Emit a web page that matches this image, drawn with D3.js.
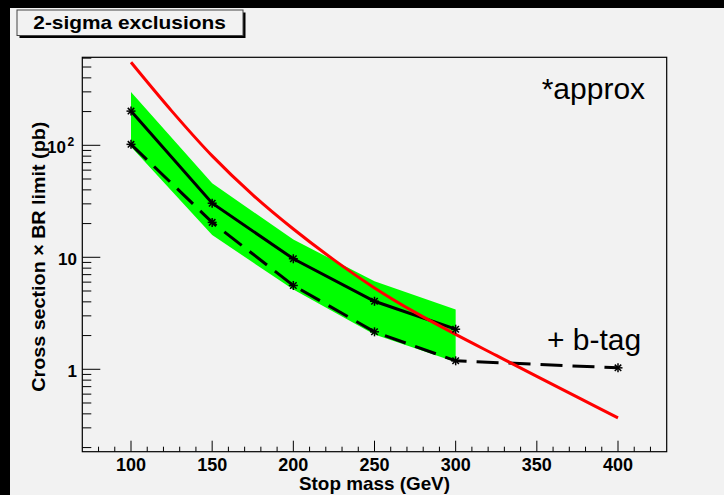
<!DOCTYPE html>
<html>
<head>
<meta charset="utf-8">
<script src="https://cdn.jsdelivr.net/npm/d3@7"></script>
<style>
  html, body { margin: 0; padding: 0; background: #000; }
  svg { display: block; }
</style>
</head>
<body>
<script>
// ---- data ----
const limitMasses = [100, 150, 200, 250, 300];
const observedLimit = [202, 30.4, 9.7, 4.05, 2.28];
const bandUpper = [299, 45.8, 14.4, 6.1, 3.41];
const bandLower = [97, 15.8, 5.15, 2.04, 1.16];
const btagMasses = [100, 150, 200, 250, 300, 400];
const btagLimit = [102, 20.5, 5.6, 2.16, 1.19, 1.03];
const theoryMasses = [100, 125, 150, 175, 200, 225, 250, 275, 300, 325, 350, 375, 400];
const theoryXsec = [551, 203, 80.4, 36.1, 17.9, 9.48, 5.33, 3.22, 2.05, 1.33, 0.864, 0.564, 0.368];
const xTickValues = [100, 150, 200, 250, 300, 350, 400];
const yMajorTicks = [1, 10, 100];
const yTickLabels = ["1", "10", "10"];

const W = 724, H = 495;
const svg = d3.select("body").append("svg").attr("width", W).attr("height", H);

// black frame of the window, light canvas
svg.append("rect").attr("x", 0).attr("y", 0).attr("width", W).attr("height", H).attr("fill", "#000");
svg.append("rect").attr("x", 10).attr("y", 8).attr("width", W - 10).attr("height", H - 8).attr("fill", "#f2f2f2");

const L = 82.3, R = 666.7, T = 57.3, B = 451.7;
const x = d3.scaleLinear().domain([70, 430]).range([L, R]);
const y = d3.scaleLog().domain([0.1837, 610.6]).range([B, T]);

const font = "'Liberation Sans', Arial, Helvetica, sans-serif";

// green band
const bandPts = limitMasses.map((m, i) => [x(m), y(bandUpper[i])])
  .concat(limitMasses.map((m, i) => [x(m), y(bandLower[i])]).reverse());
svg.append("path").attr("d", "M" + bandPts.map(p => p.join(",")).join("L") + "Z")
  .attr("fill", "#00ff00");

// lines
const line = d3.line().x(d => x(d[0])).y(d => y(d[1]));
svg.append("path")
  .attr("d", line(btagMasses.map((m, i) => [m, btagLimit[i]])))
  .attr("fill", "none").attr("stroke", "#000").attr("stroke-width", 3)
  .attr("stroke-dasharray", "22,10");
svg.append("path")
  .attr("d", line(limitMasses.map((m, i) => [m, observedLimit[i]])))
  .attr("fill", "none").attr("stroke", "#000").attr("stroke-width", 3);
svg.append("path")
  .attr("d", d3.line().x(d => x(d[0])).y(d => y(d[1])).curve(d3.curveCatmullRom.alpha(0.5))(theoryMasses.map((m, i) => [m, theoryXsec[i]])))
  .attr("fill", "none").attr("stroke", "#ff0000").attr("stroke-width", 3);

// asterisk markers
function star(g, cx, cy) {
  const r = 4.5, d = r * 0.72;
  const segs = [[-r, 0, r, 0], [0, -r, 0, r], [-d, -d, d, d], [-d, d, d, -d]];
  segs.forEach(s => g.append("line")
    .attr("x1", cx + s[0]).attr("y1", cy + s[1]).attr("x2", cx + s[2]).attr("y2", cy + s[3])
    .attr("stroke", "#000").attr("stroke-width", 1.5));
}
const mk = svg.append("g");
limitMasses.forEach((m, i) => star(mk, x(m), y(observedLimit[i])));
btagMasses.forEach((m, i) => star(mk, x(m), y(btagLimit[i])));

// frame
svg.append("rect").attr("x", L).attr("y", T).attr("width", R - L).attr("height", B - T)
  .attr("fill", "none").attr("stroke", "#000").attr("stroke-width", 1.2);

// x ticks
const xMinor = d3.range(80, 430, 10);
const xa = svg.append("g");
xMinor.forEach(v => {
  const major = xTickValues.includes(v);
  xa.append("line").attr("x1", x(v)).attr("x2", x(v)).attr("y1", B).attr("y2", B - (major ? 11 : 5))
    .attr("stroke", "#000").attr("stroke-width", 1);
});
xTickValues.forEach(v => {
  xa.append("text").attr("x", x(v)).attr("y", 470.7).attr("text-anchor", "middle")
    .attr("font-family", font).attr("font-weight", "bold").attr("font-size", 18).attr("fill", "#000")
    .text(v);
});
svg.append("text").attr("x", (L + R) / 2).attr("y", 490).attr("text-anchor", "middle")
  .attr("font-family", font).attr("font-weight", "bold").attr("font-size", 18.5)
  .attr("textLength", 151).attr("lengthAdjust", "spacingAndGlyphs")
  .text("Stop mass (GeV)");

// y ticks
const ya = svg.append("g");
[0.1, 1, 10, 100].forEach(dec => {
  for (let k = 1; k <= 9; k++) {
    const v = dec * k;
    if (v < y.domain()[0] || v > y.domain()[1]) continue;
    const major = k === 1;
    ya.append("line").attr("x1", L).attr("x2", L + (major ? 18 : 9)).attr("y1", y(v)).attr("y2", y(v))
      .attr("stroke", "#000").attr("stroke-width", 1);
  }
});
yMajorTicks.forEach((v, i) => {
  ya.append("text").attr("x", v === 100 ? 66 : 77).attr("y", y(v) + 7.5).attr("text-anchor", "end")
    .attr("font-family", font).attr("font-weight", "bold").attr("font-size", 17).attr("fill", "#000")
    .text(yTickLabels[i]);
  if (v === 100) {
    ya.append("text").attr("x", 67.5).attr("y", y(v) + 0.5).attr("text-anchor", "start")
      .attr("font-family", font).attr("font-weight", "bold").attr("font-size", 12).text("2");
  }
});
svg.append("text").attr("transform", "translate(45,256.7) rotate(-90)").attr("text-anchor", "middle")
  .attr("font-family", font).attr("font-weight", "bold").attr("font-size", 19)
  .attr("textLength", 270).attr("lengthAdjust", "spacingAndGlyphs")
  .text("Cross section × BR limit (pb)");

// title box
svg.append("rect").attr("x", 19.5).attr("y", 12.5).attr("width", 226).attr("height", 25.5).attr("fill", "#000");
svg.append("rect").attr("x", 17).attr("y", 10).attr("width", 226).attr("height", 25.5)
  .attr("fill", "#f2f2f2").attr("stroke", "#444").attr("stroke-width", 1);
svg.append("text").attr("x", 33.3).attr("y", 28.5)
  .attr("font-family", font).attr("font-weight", "bold").attr("font-size", 18.5)
  .attr("textLength", 192.5).attr("lengthAdjust", "spacingAndGlyphs")
  .text("2-sigma exclusions");

// annotations
svg.append("text").attr("x", 541.7).attr("y", 99).attr("font-family", font).attr("font-size", 30)
  .text("*approx");
svg.append("text").attr("x", 547).attr("y", 350).attr("font-family", font).attr("font-size", 30)
  .text("+ b-tag");
</script>
</body>
</html>
